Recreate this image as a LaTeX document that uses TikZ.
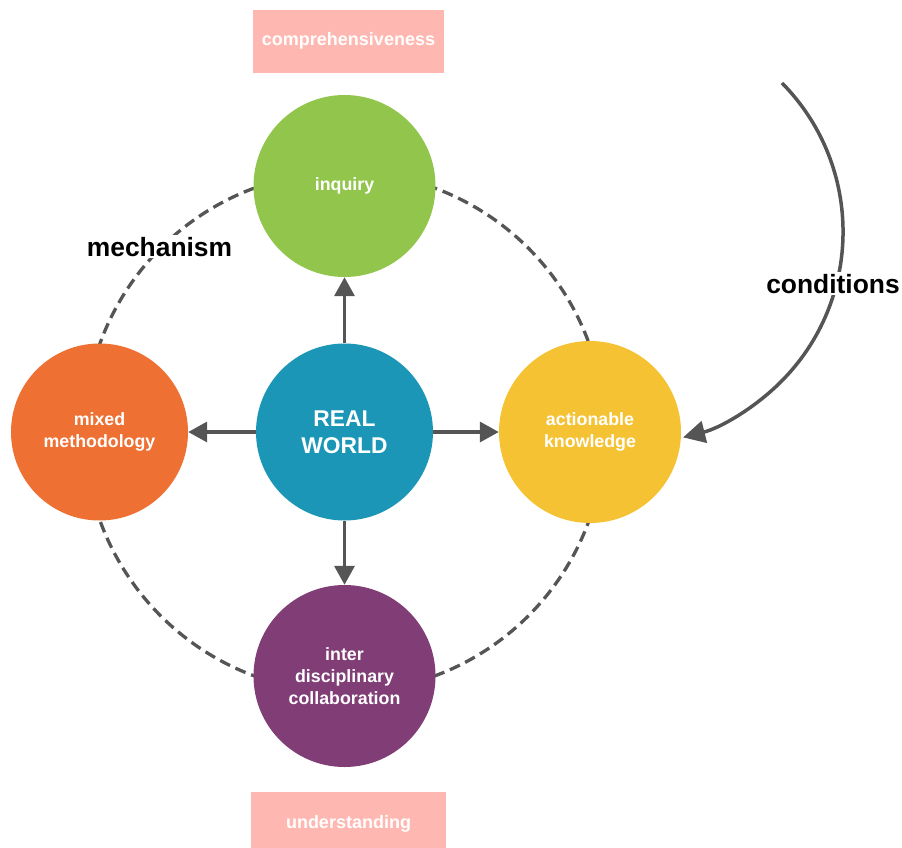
\documentclass[tikz,border=0pt]{standalone}
\usepackage{fontspec}
\setmainfont{Liberation Sans}
\usetikzlibrary{arrows.meta}
\definecolor{cgreen}{HTML}{92C54B}
\definecolor{corange}{HTML}{EE7033}
\definecolor{cblue}{HTML}{1B96B6}
\definecolor{cyellow}{HTML}{F5C233}
\definecolor{cpurple}{HTML}{813D76}
\definecolor{cpink}{HTML}{FFB8B1}
\definecolor{cgray}{HTML}{555555}
\begin{document}
\begin{tikzpicture}[x=1pt,y=-1pt,
  bubble/.style={circle, inner sep=0pt, text=white, align=center,
    font=\fontsize{17.8}{22}\selectfont\bfseries},
  pinkbox/.style={rectangle, fill=cpink, inner sep=0pt},
  pinktext/.style={text=white, inner sep=0pt, anchor=base,
    font=\fontsize{18}{22}\selectfont\bfseries},
  biglabel/.style={fill=white, inner sep=2pt, anchor=base,
    font=\fontsize{26.4}{30}\selectfont\bfseries},
  dashline/.style={draw=cgray, line width=3.3pt, dash pattern=on 11pt off 6pt},
  arr/.style={draw=cgray, line width=3.5pt, -{Triangle[length=19pt,width=20pt]}}]
\useasboundingbox (0,0) rectangle (902,848);
% dashed ring
\draw[dashline] (344.5,432) circle[radius=260];
% label boxes
\node[pinkbox, minimum width=191pt, minimum height=63pt] (compbox) at (348.5,41.5) {};
\node[pinktext] (comp) at (348.5,46) {comprehensiveness};
\node[pinkbox, minimum width=195pt, minimum height=57pt] (undbox) at (348.5,820.5) {};
\node[pinktext] (und) at (348.5,828) {understanding};
% circles
\node[bubble, fill=cblue, minimum size=177pt,
  font=\fontsize{22.8}{27}\selectfont\bfseries] (rw) at (344.5,432) {REAL\\WORLD};
\node[bubble, fill=cgreen, minimum size=182pt] (inq) at (344.5,186) {inquiry};
\node[bubble, fill=corange, minimum size=177pt] (mix) at (99.5,432) {mixed\\methodology};
\node[bubble, fill=cyellow, minimum size=182pt] (act) at (590,432) {actionable\\knowledge};
\node[bubble, fill=cpurple, minimum size=182pt] (int) at (344.5,676) {inter\\disciplinary\\collaboration};
% arrows
\draw[arr] (rw.north) -- (inq.south);
\draw[arr] (rw.west) -- (mix.east);
\draw[arr] (rw.east) -- (act.west);
\draw[arr] (rw.south) -- (int.north);
% conditions arc
\coordinate (cstart) at (782,83);
\draw[draw=cgray, line width=3.5pt, -{Triangle[length=22pt,width=22pt]}]
  (cstart) arc[start angle=-44.6, end angle=75.8, radius=212];
% labels
\node[biglabel] (mech) at (159.5,256) {mechanism};
\node[biglabel] (cond) at (833,293) {conditions};
\end{tikzpicture}
\end{document}
